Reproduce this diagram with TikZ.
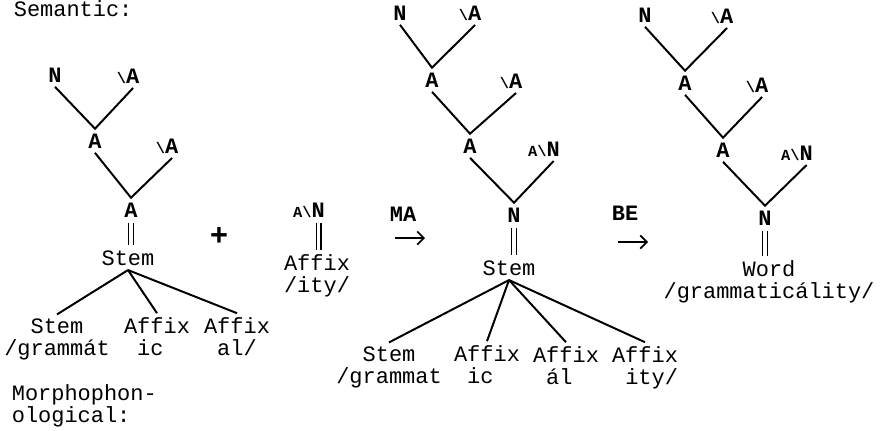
\documentclass[tikz,border=0pt]{standalone}
\usepackage{fontspec}
\setmonofont{Liberation Mono}
\usetikzlibrary{arrows.meta,positioning}
\newcommand{\lsl}{{\scriptsize\textbackslash}}
\newcommand{\catAN}{{\scriptsize A\textbackslash}N}
\tikzset{
    %Define standard arrow tip
    >={Straight Barb[length=3pt,width=6pt]},
    %Define style for category labels
    cat/.style={
           font=\fontsize{10}{9.6}\selectfont\ttfamily\bfseries,
           inner sep=2pt,
           anchor=base},
    %Define style for morpheme text
    morph/.style={
           font=\fontsize{10}{9.6}\selectfont\ttfamily,
           inner sep=2pt,
           anchor=base},
    % two-line morpheme text, placed by its last line
    lex/.style={morph, align=center},
    % Define line styles
    branch/.style={line width=0.9pt},
    ident/.style={
           double, line width=0.7pt, double distance=1.4pt,
           shorten <=0.5pt,
           shorten >=0pt},
    rule/.style={->, line width=0.8pt}
}
\begin{document}
\begin{tikzpicture}[x=0.016cm, y=-0.016cm]
      \useasboundingbox (0,0) rectangle (882,430);
      \node[morph, anchor=base west] (sem) at (9,16) {Semantic:};
      \node[lex, anchor=base west, align=left] (morpho) at (7,422) {Morphophon-\\ological:};

      % left tree
      \node[cat] (n1) at (55,82) {N};
      \node[cat] (s1) at (128,83) {\lsl A};
      \node[cat] (a1) at (95,148) {A};
      \node[cat] (s2) at (167,153) {\lsl A};
      \node[cat] (a2) at (131,217) {A};
      \node[morph] (stem1) at (128,265) {Stem};
      \node[lex] (st1) at (57,355) {Stem\\/grammát};
      \node[lex] (ic1) at (157,355) {Affix\\ic\phantom{x}};
      \node[lex] (al1) at (237,355) {Affix\\al/};
      \draw[branch] (n1.south) -- (a1.north) -- ([xshift=-5pt]s1.south east);
      \draw[branch] (a1.south) -- (a2.north) -- ([xshift=-5pt]s2.south east);
      \draw[ident] (a2.south) -- (a2.south |- stem1.north);
      \foreach \m in {st1,ic1,al1}
        \draw[branch] (stem1.south) -- (\m.north);

      \node[cat, font=\fontsize{14}{14}\selectfont\ttfamily\bfseries] (plus) at (219,245) {+};

      % affix
      \node[cat] (an0) at (309,217) {\catAN};
      \node[lex] (aff) at (317,292) {Affix\\/ity/};
      \coordinate (an0n) at ([xshift=-5pt]an0.south east);
      \draw[ident] (an0n) -- (an0n |- aff.north);

      \node[cat] (ma) at (403,221) {MA};
      \coordinate (ma0) at (395,238);
      \coordinate (ma1) at (425,238);
      \draw[rule] (ma0) -- (ma1);

      % middle tree
      \node[cat] (n2) at (400,20) {N};
      \node[cat] (s3) at (470,20) {\lsl A};
      \node[cat] (a3) at (432,87) {A};
      \node[cat] (s4) at (511,88) {\lsl A};
      \node[cat] (a4) at (470,153) {A};
      \node[cat] (an1) at (544,156) {\catAN};
      \node[cat] (n3) at (514,222) {N};
      \node[morph] (stem2) at (509,275) {Stem};
      \node[lex] (st2) at (389,383) {Stem\\/grammat};
      \node[lex] (ic2) at (487,383) {Affix\\ic\phantom{x}};
      \node[lex] (al2) at (566,384) {Affix\\ál\phantom{x}};
      \node[lex] (it2) at (645,384) {Affix\\\phantom{x}ity/};
      \draw[branch] (n2.south) -- (a3.north) -- ([xshift=-5pt]s3.south east);
      \draw[branch] (a3.south) -- (a4.north) -- ([xshift=-5pt]s4.south east);
      \draw[branch] (a4.south) -- (n3.north) -- ([xshift=-5pt]an1.south east);
      \draw[ident] (n3.south) -- (n3.south |- stem2.north);
      \foreach \m in {st2,ic2,al2,it2}
        \draw[branch] (stem2.south) -- (\m.north);

      \node[cat] (be) at (625,220) {BE};
      \coordinate (be0) at (618,242);
      \coordinate (be1) at (648,242);
      \draw[rule] (be0) -- (be1);

      % right tree
      \node[cat] (n4) at (645,22) {N};
      \node[cat] (s5) at (722,23) {\lsl A};
      \node[cat] (a5) at (685,90) {A};
      \node[cat] (s6) at (757,92) {\lsl A};
      \node[cat] (a6) at (723,157) {A};
      \node[cat] (an2) at (797,160) {\catAN};
      \node[cat] (n5) at (765,225) {N};
      \node[lex] (word) at (769,298) {Word\\/grammaticálity/};
      \draw[branch] (n4.south) -- (a5.north) -- ([xshift=-5pt]s5.south east);
      \draw[branch] (a5.south) -- (a6.north) -- ([xshift=-5pt]s6.south east);
      \draw[branch] (a6.south) -- (n5.north) -- ([xshift=-5pt]an2.south east);
      \draw[ident] (n5.south) -- (n5.south |- word.north);
  \end{tikzpicture}
\end{document}
